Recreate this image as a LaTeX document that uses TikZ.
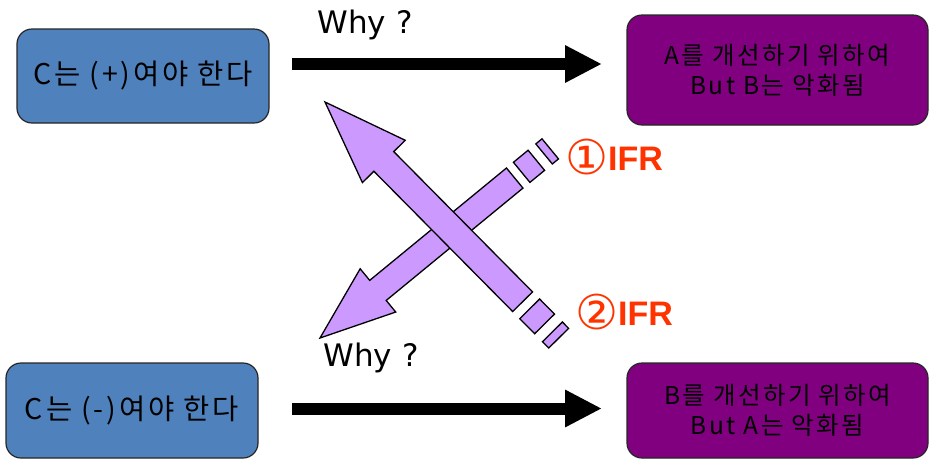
\documentclass[tikz,border=0pt]{standalone}
\usepackage{fontspec}
\setmainfont{DejaVu Sans}
\newfontfamily\krfont{Noto Sans CJK KR}[LetterSpace=10]
\newfontfamily\ifrfont{Liberation Sans}
\usetikzlibrary{arrows.meta, positioning}

\definecolor{signblue}{RGB}{79,129,189}
\definecolor{tradepurple}{RGB}{128,0,128}
\definecolor{lavender}{RGB}{204,153,255}
\definecolor{ifrred}{RGB}{255,51,0}

\newcommand{\circnum}[1]{\raisebox{-4pt}{\normalfont\fontsize{48}{48}\selectfont #1}}

\begin{document}
\begin{tikzpicture}[
        x=1pt, y=1pt,
        signbox/.style={rectangle, rounded corners=15pt, draw=black!85, line width=1.2pt, fill=signblue, minimum width=252pt, minimum height=94pt, inner sep=0pt, font=\krfont\fontsize{28.5}{30}\selectfont},
        tradebox/.style={rectangle, rounded corners=15pt, draw=black!85, line width=1.2pt, fill=tradepurple, minimum width=301pt, minimum height=95pt, inner sep=0pt, align=center, font=\krfont\fontsize{24.5}{30}\selectfont},
        bigarrow/.style={line width=12pt, -{Triangle[length=37pt, width=35pt]}},
        why/.style={font=\fontsize{31}{36}\selectfont},
        ifr/.style={text=ifrred, font=\ifrfont\bfseries\fontsize{34}{40}\selectfont, inner sep=0pt},
        stripe/.style={draw=black, line width=1.3pt, fill=lavender},
        stripedarrow/.pic={
            \draw[stripe] (0,0) -- (75,28) -- (75,13) -- (252,13) -- (252,-13) -- (75,-13) -- (75,-28) -- cycle;
            \draw[stripe] (261,13) rectangle (280,-13);
            \draw[stripe] (290,13) rectangle (298,-13);
        }
    ]
        \useasboundingbox (0,0) rectangle (930,-459);

        % the four statements
        \node[signbox] (cplus) at (143,-76) {C는 (+)여야 한다};
        \node[tradebox, minimum height=110pt] (atrade) at (777.5,-70) {A를 개선하기 위하여\\But B는 악화됨};
        \node[signbox, minimum height=95pt] (cminus) at (132,-410.5) {C는 (-)여야 한다};
        \node[tradebox] (btrade) at (777.5,-410.5) {B를 개선하기 위하여\\But A는 악화됨};

        % why arrows
        \coordinate (topfrom) at (292,-64);
        \coordinate (topto) at (602,-64);
        \coordinate (botfrom) at (292,-408.5);
        \coordinate (botto) at (602,-408.5);
        \draw[bigarrow] (topfrom) -- (topto);
        \draw[bigarrow] (botfrom) -- (botto);
        \node[why] (whytop) at (365,-25) {Why ?};
        \node[why] (whybot) at (371,-358) {Why ?};

        % crossing striped arrows, the up-left one on top
        \pic[rotate=39.4] at (320,-338) {stripedarrow};
        \pic[rotate=-45.3, xscale=1.115, yscale=1.075] at (325,-102) {stripedarrow};

        \node[ifr] (ifrone) at (614,-157) {\circnum{①}IFR};
        \node[ifr] (ifrtwo) at (624,-312) {\circnum{②}IFR};
    \end{tikzpicture}
\end{document}
